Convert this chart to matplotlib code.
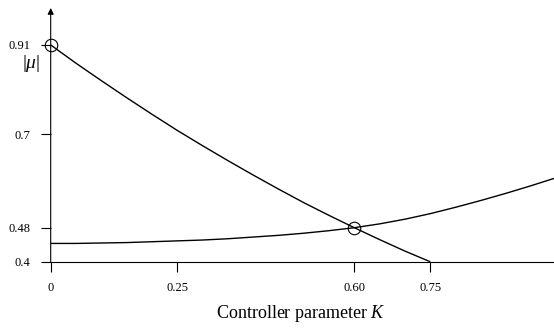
import matplotlib
matplotlib.use("Agg")
import matplotlib.pyplot as plt

plt.rcParams['font.family'] = ['Liberation Serif', 'DejaVu Serif']
plt.rcParams['mathtext.fontset'] = 'custom'
plt.rcParams['mathtext.rm'] = 'Liberation Serif'
plt.rcParams['mathtext.it'] = 'Liberation Serif:italic'

# Spectral radius of the two eigenvalue branches versus controller gain K
k_falling = [0.00, 0.05, 0.10, 0.15, 0.20, 0.25, 0.30, 0.35, 0.40,
             0.45, 0.50, 0.55, 0.60, 0.65, 0.70, 0.75]
mu_falling = [0.910, 0.867, 0.826, 0.786, 0.747, 0.709, 0.673, 0.638, 0.604,
              0.571, 0.539, 0.509, 0.480, 0.452, 0.425, 0.400]

k_rising = [0.00, 0.05, 0.10, 0.15, 0.20, 0.25, 0.30, 0.35, 0.40, 0.45, 0.50,
            0.55, 0.60, 0.65, 0.70, 0.75, 0.80, 0.85, 0.90, 0.95, 1.00]
mu_rising = [0.443, 0.443, 0.444, 0.445, 0.447, 0.449, 0.451, 0.454, 0.458, 0.462,
             0.467, 0.473, 0.480, 0.489, 0.500, 0.513, 0.528, 0.544, 0.561,
             0.579, 0.598]

# Highlighted points: start value and optimal gain
k_marks = [0.0, 0.60]
mu_marks = [0.91, 0.48]

x_ticks = [0, 0.25, 0.60, 0.75]
x_tick_labels = ["0", "0.25", "0.60", "0.75"]
y_ticks = [0.4, 0.48, 0.7, 0.91]
y_tick_labels = ["0.4", "0.48", "0.7", "0.91"]

W, H = 554, 328
fig = plt.figure(figsize=(W / 100, H / 100), dpi=100)
x0_px, y0_px = 50.7, 261.7
ax_h_px = 0.6 * 425
ax = fig.add_axes([x0_px / W, (H - y0_px) / H, (W - x0_px) / W, ax_h_px / H])

ax.plot(k_falling, mu_falling, color='black', lw=1.0, solid_capstyle='butt')
ax.plot(k_rising, mu_rising, color='black', lw=1.0, solid_capstyle='butt')
ax.plot(k_marks, mu_marks, linestyle='none', marker='o', markersize=9,
        markerfacecolor='none', markeredgecolor='black', markeredgewidth=0.8,
        clip_on=False, zorder=5)

ax.set_xlim(0, (W - x0_px) / 506)
ax.set_ylim(0.4, 1.0)

for side in ('top', 'right', 'left'):
    ax.spines[side].set_visible(False)
ax.spines['bottom'].set_linewidth(0.8)

# vertical axis with arrow head
ax.annotate('', xy=(0, 0.995), xytext=(0, 0), xycoords='axes fraction',
            arrowprops=dict(arrowstyle='-|>', color='black', lw=0.8,
                            mutation_scale=9, shrinkA=0, shrinkB=0))

ax.set_xticks(x_ticks)
ax.set_xticklabels(x_tick_labels)
ax.set_yticks(y_ticks)
ax.set_yticklabels(y_tick_labels)
ax.tick_params(axis='both', direction='out', length=7.5, width=0.8,
               labelsize=9, colors='black')
ax.tick_params(axis='x', pad=7)
ax.tick_params(axis='y', pad=7)

fig.text(301 / W, 1 - 314 / H, 'Controller parameter $K$', ha='center',
         va='center', fontsize=13)
fig.text(31 / W, 1 - 63 / H, r'$|\mu|$', ha='center', va='center', fontsize=14)

fig.savefig('out.png', dpi=100)
